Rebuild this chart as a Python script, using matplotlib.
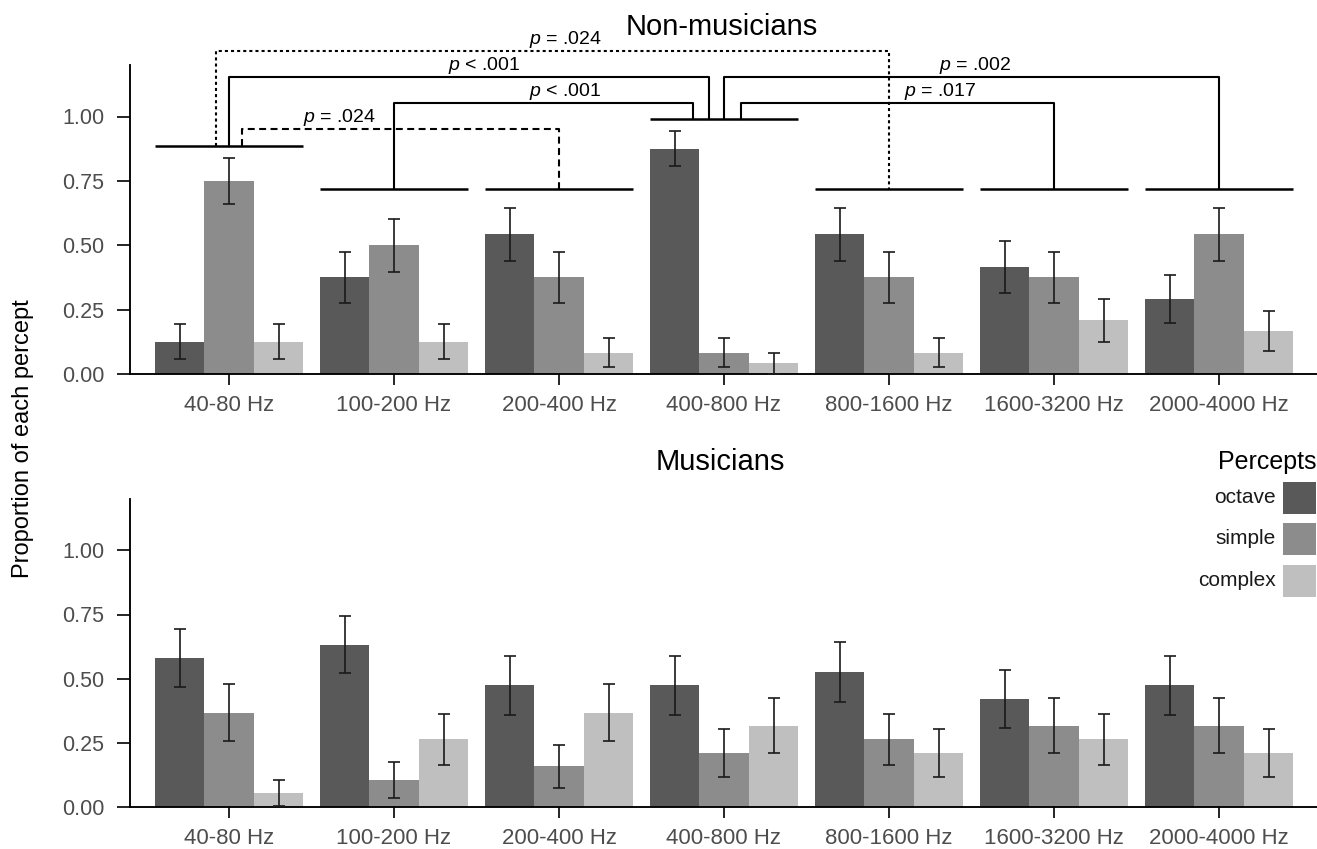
import matplotlib
matplotlib.use("Agg")
import matplotlib.pyplot as plt
from matplotlib.patches import Rectangle
import numpy as np

plt.rcParams['font.family'] = ['Liberation Sans', 'DejaVu Sans']
plt.rcParams['mathtext.fontset'] = 'custom'
plt.rcParams['mathtext.it'] = 'Liberation Sans:italic'
plt.rcParams['mathtext.rm'] = 'Liberation Sans'
plt.rcParams['lines.scale_dashes'] = False

# ---------------- data ----------------
categories = ["40-80 Hz", "100-200 Hz", "200-400 Hz", "400-800 Hz",
              "800-1600 Hz", "1600-3200 Hz", "2000-4000 Hz"]
percepts = ["octave", "simple", "complex"]
colors = ["#595959", "#8c8c8c", "#bfbfbf"]

nonmus_octave = [0.125, 0.375, 0.542, 0.875, 0.542, 0.417, 0.292]
nonmus_simple = [0.750, 0.500, 0.375, 0.083, 0.375, 0.375, 0.542]
nonmus_complex = [0.125, 0.125, 0.083, 0.042, 0.083, 0.208, 0.167]
nonmus_octave_se = [0.068, 0.099, 0.102, 0.068, 0.102, 0.101, 0.093]
nonmus_simple_se = [0.088, 0.102, 0.099, 0.056, 0.099, 0.099, 0.102]
nonmus_complex_se = [0.068, 0.068, 0.056, 0.041, 0.056, 0.083, 0.076]

mus_octave = [0.579, 0.632, 0.474, 0.474, 0.526, 0.421, 0.474]
mus_simple = [0.368, 0.105, 0.158, 0.211, 0.263, 0.316, 0.316]
mus_complex = [0.053, 0.263, 0.368, 0.316, 0.211, 0.263, 0.211]
mus_octave_se = [0.113, 0.111, 0.115, 0.115, 0.115, 0.113, 0.115]
mus_simple_se = [0.111, 0.070, 0.084, 0.094, 0.101, 0.107, 0.107]
mus_complex_se = [0.051, 0.101, 0.111, 0.107, 0.094, 0.101, 0.094]

yticks = [0.0, 0.25, 0.50, 0.75, 1.00]
ytick_labels = ["0.00", "0.25", "0.50", "0.75", "1.00"]

# significance annotations (non-musicians)
group_line_level = [0.887, 0.72, 0.72, 0.992, 0.72, 0.72, 0.72]
# (left cat, left offset, right cat, right offset, top level, label, label x, style)
comparisons = [
    (0, -0.08, 4, 0.00, 1.253, "$p$ = .024", 2.04, "dotted"),
    (0, 0.00, 3, -0.09, 1.152, "$p$ < .001", 1.55, "solid"),
    (3, 0.00, 6, 0.00, 1.152, "$p$ = .002", 4.52, "solid"),
    (1, 0.00, 3, -0.19, 1.051, "$p$ < .001", 2.04, "solid"),
    (3, 0.10, 5, 0.00, 1.051, "$p$ = .017", 4.31, "solid"),
    (0, 0.08, 2, 0.00, 0.953, "$p$ = .024", 0.67, "dashed"),
]
styles = {"solid": "-", "dotted": (0, (2.2, 2.2)), "dashed": (0, (5.0, 3.2))}

# ---------------- figure ----------------
W, H = 1317, 849
fig = plt.figure(figsize=(W / 100, H / 100), dpi=100)

ax_top = fig.add_axes([130 / W, (H - 374) / H, 1188 / W, 309 / H])
ax_bot = fig.add_axes([130 / W, (H - 807) / H, 1188 / W, 308 / H])

x = np.arange(len(categories))
width = 0.3
offsets = [-0.3, 0.0, 0.3]


def draw_panel(ax, means, ses):
    for i, (m, s) in enumerate(zip(means, ses)):
        ax.bar(x + offsets[i], m, width=width, color=colors[i], zorder=2,
               linewidth=0)
        ax.errorbar(x + offsets[i], m, yerr=s, fmt='none', ecolor='#1a1a1a',
                    elinewidth=1.2, capsize=4.3, capthick=1.2, zorder=3)
    ax.set_xlim(-0.6, 6.6)
    ax.set_ylim(0, 1.2)
    ax.set_xticks(x)
    ax.set_xticklabels(categories, fontsize=16, color='#4d4d4d')
    ax.set_yticks(yticks)
    ax.set_yticklabels(ytick_labels, fontsize=15.5, color='#4d4d4d')
    for sp in ['top', 'right']:
        ax.spines[sp].set_visible(False)
    for sp in ['left', 'bottom']:
        ax.spines[sp].set_linewidth(1.35)
        ax.spines[sp].set_color('black')
    ax.tick_params(axis='y', length=9.5, width=1.2, pad=9, color='black')
    ax.tick_params(axis='x', length=8, width=1.2, pad=7, color='black')


draw_panel(ax_top, [nonmus_octave, nonmus_simple, nonmus_complex],
           [nonmus_octave_se, nonmus_simple_se, nonmus_complex_se])
draw_panel(ax_bot, [mus_octave, mus_simple, mus_complex],
           [mus_octave_se, mus_simple_se, mus_complex_se])

# group lines
for i, lvl in enumerate(group_line_level):
    ax_top.plot([i - 0.45, i + 0.45], [lvl, lvl], color='black', lw=1.8,
                clip_on=False, solid_capstyle='butt', zorder=4)

# brackets
for (lc, lo, rc, ro, top, lab, lx, st) in comparisons:
    xl, xr = lc + lo, rc + ro
    yl, yr = group_line_level[lc], group_line_level[rc]
    ax_top.plot([xl, xl, xr, xr], [yl, top, top, yr], color='black', lw=1.5,
                linestyle=styles[st], clip_on=False, zorder=4)
    ax_top.text(lx, top + 0.027, lab, ha='center', va='baseline',
                fontsize=14, color='black', clip_on=False)

# titles
fig.text(722 / W, 1 - 27 / H, "Non-musicians", ha='center', va='center',
         fontsize=21, color='black')
fig.text(720 / W, 1 - 462 / H, "Musicians", ha='center', va='center',
         fontsize=21, color='black')

# y label
fig.text(23 / W, 1 - 439 / H, "Proportion of each percept", rotation=90,
         ha='center', va='center', fontsize=17, color='black')

# legend
fig.text(1316 / W, 1 - 462 / H, "Percepts", ha='right', va='center',
         fontsize=18, color='black')
legend_centers = [498, 539, 581]
for name, col, yc in zip(percepts, colors, legend_centers):
    fig.add_artist(Rectangle((1283 / W, 1 - (yc + 16) / H), 33 / W, 32 / H,
                             transform=fig.transFigure, facecolor=col,
                             edgecolor='none'))
    fig.text(1276 / W, 1 - yc / H, name, ha='right', va='center',
             fontsize=15, color='#1a1a1a')

fig.savefig("out.png", dpi=100)
